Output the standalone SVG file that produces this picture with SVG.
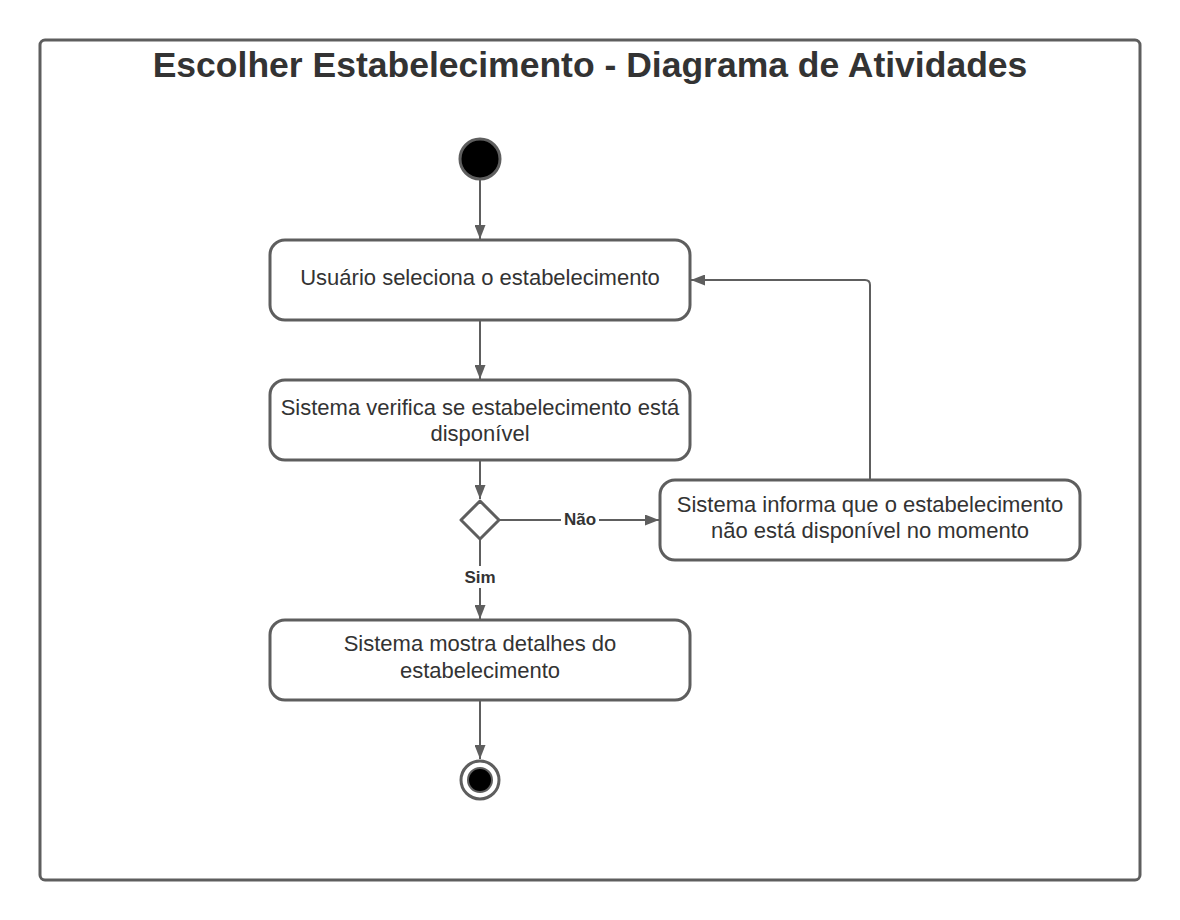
<svg xmlns="http://www.w3.org/2000/svg" width="1180" height="920" viewBox="0 0 1180 920">
<defs>
<style>
.frame{fill:#fff;stroke:#5e5e5e;stroke-width:3}
.box{fill:#fff;stroke:#5e5e5e;stroke-width:3}
.t{font-family:"Liberation Sans",Arial,sans-serif;font-size:22px;fill:#333;text-anchor:middle}
.lbl{font-family:"Liberation Sans",Arial,sans-serif;font-size:17px;font-weight:bold;fill:#333;text-anchor:middle}
.title{font-family:"Liberation Sans",Arial,sans-serif;font-size:35.5px;font-weight:bold;fill:#333;text-anchor:middle}
.edge{fill:none;stroke:#5e5e5e;stroke-width:2}
</style>
<marker id="arr" viewBox="0 0 14 11" refX="14" refY="5.5" markerWidth="14" markerHeight="11" markerUnits="userSpaceOnUse" orient="auto">
<path d="M0,0 L14,5.5 L0,11 Z" fill="#5e5e5e"/>
</marker>
</defs>
<rect width="1180" height="920" fill="#fff"/>
<rect class="frame" x="40" y="40" width="1100" height="840" rx="5"/>
<text class="title" x="590" y="77">Escolher Estabelecimento - Diagrama de Atividades</text>
<g id="connectors">
<path class="edge" d="M480,180 L480,239" marker-end="url(#arr)"/>
<path class="edge" d="M480,320 L480,379" marker-end="url(#arr)"/>
<path class="edge" d="M480,460 L480,499" marker-end="url(#arr)"/>
<path class="edge" d="M500,520 L659,520" marker-end="url(#arr)"/>
<path class="edge" d="M480,540 L480,619" marker-end="url(#arr)"/>
<path class="edge" d="M870,480 L870,285 Q870,280 865,280 L691,280" marker-end="url(#arr)"/>
<path class="edge" d="M480,700 L480,759" marker-end="url(#arr)"/>
<rect x="561" y="509" width="38" height="20" fill="#fff"/>
<text class="lbl" x="580" y="525">Não</text>
<rect x="460" y="566" width="40" height="22" fill="#fff"/>
<text class="lbl" x="480" y="583">Sim</text>
</g>
<g id="start">
<circle cx="480" cy="159" r="20" fill="#000" stroke="#5e5e5e" stroke-width="3"/>
</g>
<g id="n1">
<rect class="box" x="270" y="240" width="420" height="80" rx="15"/>
<text class="t" x="480" y="285">Usuário seleciona o estabelecimento</text>
</g>
<g id="n2">
<rect class="box" x="270" y="380" width="420" height="80" rx="15"/>
<text class="t" x="480" y="415">Sistema verifica se estabelecimento está</text>
<text class="t" x="480" y="441">disponível</text>
</g>
<g id="decision">
<path d="M480,501 L499,520 L480,539 L461,520 Z" fill="#fff" stroke="#5e5e5e" stroke-width="3" stroke-linejoin="round"/>
</g>
<g id="n3">
<rect class="box" x="660" y="480" width="420" height="80" rx="15"/>
<text class="t" x="870" y="512">Sistema informa que o estabelecimento</text>
<text class="t" x="870" y="538">não está disponível no momento</text>
</g>
<g id="n4">
<rect class="box" x="270" y="620" width="420" height="80" rx="15"/>
<text class="t" x="480" y="651">Sistema mostra detalhes do</text>
<text class="t" x="480" y="678">estabelecimento</text>
</g>
<g id="end">
<circle cx="480" cy="780" r="19" fill="#fff" stroke="#5e5e5e" stroke-width="3"/>
<circle cx="480" cy="780" r="12" fill="#000" stroke="#5e5e5e" stroke-width="2"/>
</g>
</svg>
